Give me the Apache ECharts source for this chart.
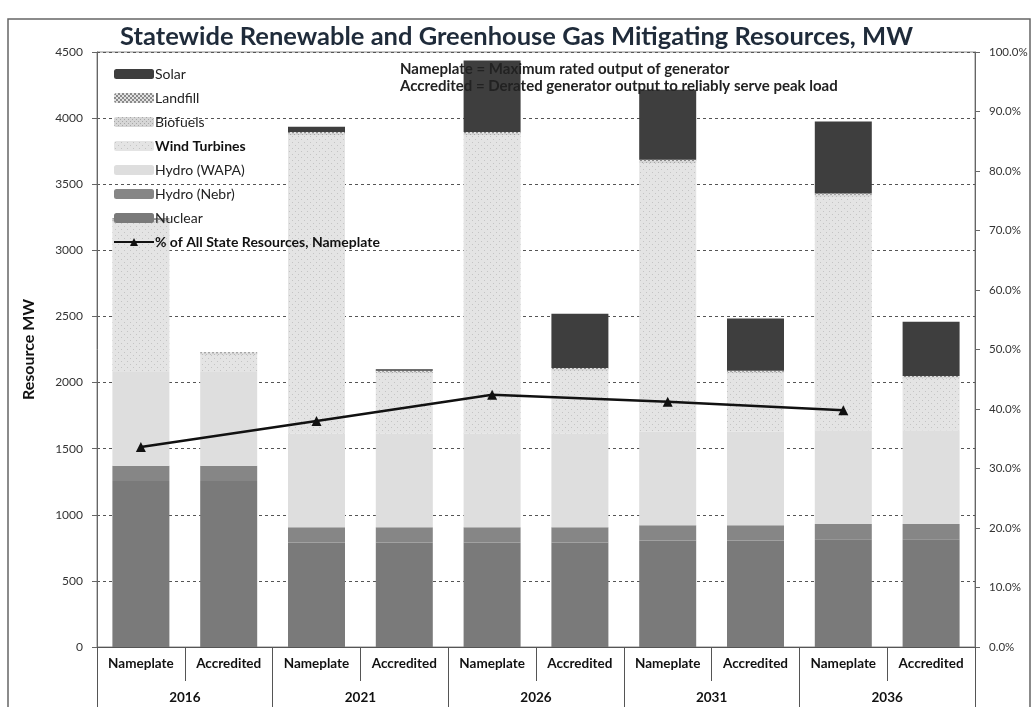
<!DOCTYPE html>
<html>
<head>
<meta charset="utf-8">
<title>Statewide Renewable and Greenhouse Gas Mitigating Resources, MW</title>
<script src="https://cdn.jsdelivr.net/npm/echarts@6/dist/echarts.min.js"></script>
<style>
  html, body { margin: 0; padding: 0; background: #ffffff; }
  #chart { width: 1033px; height: 707px; }
</style>
</head>
<body>
<div id="chart"></div>
<script>
// Category labels: two bars (Nameplate / Accredited) per study year
const categories = ['Nameplate', 'Accredited', 'Nameplate', 'Accredited', 'Nameplate',
                    'Accredited', 'Nameplate', 'Accredited', 'Nameplate', 'Accredited'];
const years = ['2016', '2021', '2026', '2031', '2036'];

// Resource MW by type, stacked bottom to top
const nuclear   = [1255, 1255, 790, 790, 790, 790, 805, 805, 815, 815];
const hydroNebr = [115, 115, 115, 115, 115, 115, 115, 115, 115, 115];
const hydroWapa = [710, 710, 710, 710, 710, 710, 710, 710, 710, 710];
const wind      = [1130, 130, 2255, 455, 2255, 475, 2030, 440, 1765, 390];
const biofuels  = [15, 12, 15, 12, 15, 12, 15, 12, 15, 12];
const landfill  = [10, 8, 10, 8, 10, 8, 10, 8, 10, 8];
const solar     = [5, 0, 40, 10, 540, 410, 530, 395, 545, 410];

// Share of all state resources (nameplate), percent
const pctNameplate = [33.6, null, 38.0, null, 42.4, null, 41.2, null, 39.8, null];

const leftTicks = { min: 0, max: 4500, interval: 500 };
const rightTicks = { min: 0, max: 100, interval: 10 };

// Small repeating textures for the patterned series
function pattern(size, bg, draw) {
  const c = document.createElement('canvas');
  c.width = size; c.height = size;
  const g = c.getContext('2d');
  g.fillStyle = bg; g.fillRect(0, 0, size, size);
  draw(g);
  return { image: c, repeat: 'repeat' };
}
const windFill = pattern(6, '#e4e4e4', g => {
  g.fillStyle = '#c4c4c4'; g.fillRect(1, 1, 1, 1); g.fillRect(4, 4, 1, 1);
});
const bioFill = pattern(4, '#d6d6d6', g => {
  g.fillStyle = '#a8a8a8'; g.fillRect(0, 0, 1, 1); g.fillRect(2, 2, 1, 1);
});
const landfillFill = pattern(4, '#e2e2e2', g => {
  g.fillStyle = '#8a8a8a'; g.fillRect(0, 0, 2, 2); g.fillRect(2, 2, 2, 2);
});

const FONT = 'Lato, "Open Sans", sans-serif';

function barSeries(name, data, color) {
  return {
    name: name,
    type: 'bar',
    stack: 'mw',
    barWidth: 57,
    data: data,
    itemStyle: { color: color },
    emphasis: { disabled: true }
  };
}

const chart = echarts.init(document.getElementById('chart'), null, { renderer: 'canvas' });

chart.setOption({
  animation: false,
  backgroundColor: '#ffffff',
  textStyle: { fontFamily: FONT },
  title: {
    text: 'Statewide Renewable and Greenhouse Gas Mitigating Resources, MW',
    left: 'center',
    top: 19,
    textStyle: { fontFamily: FONT, fontSize: 25.5, fontWeight: 'bold', color: '#1f2b3a' }
  },
  grid: {
    left: 97, right: 58, top: 52, bottom: 60,
    show: true, borderColor: '#8a8a8a', borderWidth: 1
  },
  legend: {
    orient: 'vertical',
    left: 108,
    top: 62,
    itemGap: 10,
    itemWidth: 40,
    itemHeight: 10,
    data: ['Solar', 'Landfill', 'Biofuels', 'Wind Turbines', 'Hydro (WAPA)', 'Hydro (Nebr)', 'Nuclear',
           '% of All State Resources, Nameplate'],
    formatter: function (name) {
      return (name === 'Wind Turbines' || name.charAt(0) === '%') ? '{b|' + name + '}' : name;
    },
    textStyle: {
      fontFamily: FONT, fontSize: 14, color: '#222', padding: [0, 0, 0, -4],
      rich: { b: { fontFamily: FONT, fontSize: 14, fontWeight: 'bold', color: '#111' } }
    }
  },
  xAxis: [
    {
      type: 'category',
      data: categories,
      position: 'bottom',
      axisLine: { lineStyle: { color: '#555', width: 1 } },
      axisTick: { show: true, interval: 0, length: 34, lineStyle: { color: '#555' } },
      axisLabel: { interval: 0, margin: 10, fontFamily: FONT, fontSize: 13.5, fontWeight: 'bold', color: '#111' }
    },
    {
      type: 'category',
      data: years,
      position: 'bottom',
      axisLine: { show: false },
      axisTick: { show: true, interval: 0, length: 62, lineStyle: { color: '#555' } },
      axisLabel: { interval: 0, margin: 44, fontFamily: FONT, fontSize: 13.5, fontWeight: 'bold', color: '#111' }
    }
  ],
  yAxis: [
    {
      type: 'value',
      min: leftTicks.min, max: leftTicks.max, interval: leftTicks.interval,
      name: 'Resource MW',
      nameLocation: 'middle',
      nameGap: 60,
      nameTextStyle: { fontFamily: FONT, fontSize: 16, fontWeight: 'bold', color: '#111' },
      axisLine: { show: true, lineStyle: { color: '#666' } },
      axisTick: { show: true, length: 5, lineStyle: { color: '#666' } },
      axisLabel: { margin: 14, fontFamily: FONT, fontSize: 12, color: '#333',
                   formatter: v => String(v) },
      splitLine: { show: true, lineStyle: { color: '#555', type: [3, 3], width: 1 } }
    },
    {
      type: 'value',
      min: rightTicks.min, max: rightTicks.max, interval: rightTicks.interval,
      position: 'right',
      axisLine: { show: true, lineStyle: { color: '#666' } },
      axisTick: { show: true, length: 5, lineStyle: { color: '#666' } },
      axisLabel: { margin: 14, fontFamily: FONT, fontSize: 11.5, color: '#333',
                   formatter: v => v.toFixed(1) + '%' },
      splitLine: { show: false }
    }
  ],
  series: [
    barSeries('Nuclear', nuclear, '#7a7a7a'),
    barSeries('Hydro (Nebr)', hydroNebr, '#868686'),
    barSeries('Hydro (WAPA)', hydroWapa, '#dedede'),
    barSeries('Wind Turbines', wind, windFill),
    barSeries('Biofuels', biofuels, bioFill),
    barSeries('Landfill', landfill, landfillFill),
    barSeries('Solar', solar, '#3e3e3e'),
    {
      name: '% of All State Resources, Nameplate',
      type: 'line',
      yAxisIndex: 1,
      data: pctNameplate,
      connectNulls: true,
      symbol: 'triangle',
      symbolSize: 10,
      lineStyle: { color: '#111', width: 2.5 },
      itemStyle: { color: '#111' },
      emphasis: { disabled: true },
      z: 5
    }
  ],
  graphic: [
    {
      type: 'rect',
      shape: { x: 8, y: 19, width: 1022, height: 700 },
      style: { fill: 'none', stroke: '#666', lineWidth: 1.5 },
      silent: true
    },
    {
      type: 'text',
      left: 400, top: 61,
      z: 100,
      style: {
        text: 'Nameplate = Maximum rated output of generator\nAccredited = Derated generator output to reliably serve peak load',
        fontFamily: FONT, fontSize: 15, fontWeight: 'bold', fill: '#222', lineHeight: 17
      },
      silent: true
    }
  ]
});
</script>
</body>
</html>
